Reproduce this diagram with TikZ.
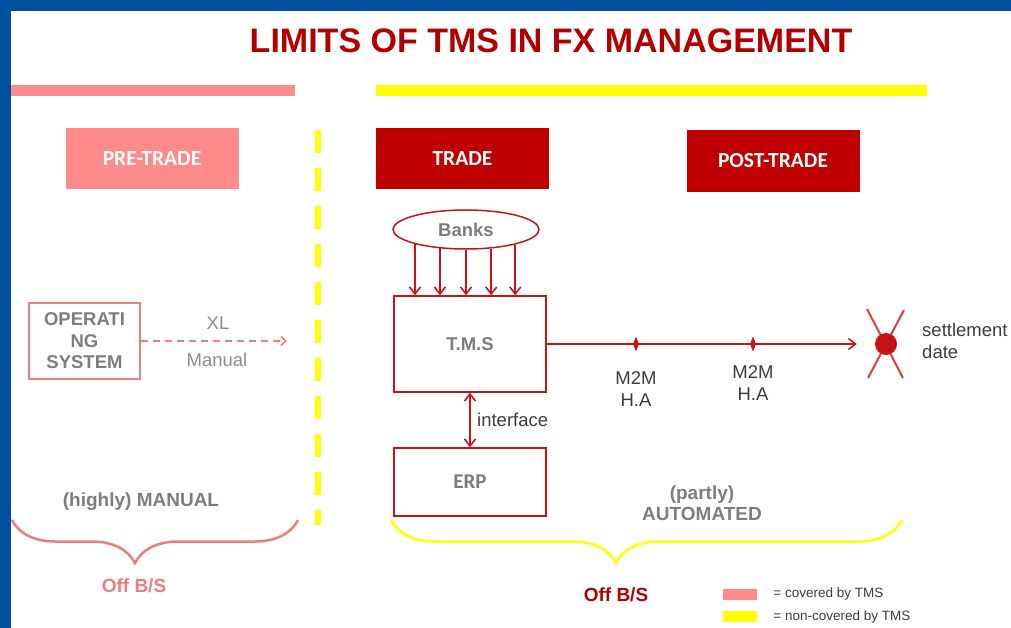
\documentclass[tikz,border=0pt]{standalone}
\usepackage{fontspec}
\setmainfont{Liberation Sans}
\newfontfamily\calibrifont{Carlito}
\usepackage{tikz}
\usetikzlibrary{positioning, arrows.meta, calc, shapes.geometric, decorations.pathreplacing}

\definecolor{frameblue}{RGB}{0,80,160}
\definecolor{titlered}{RGB}{176,0,0}
\definecolor{tradered}{RGB}{192,0,0}
\definecolor{linered}{RGB}{200,20,20}
\definecolor{xred}{RGB}{225,60,60}
\definecolor{covpink}{RGB}{255,138,138}
\definecolor{linepink}{RGB}{236,125,125}
\definecolor{noncovyel}{RGB}{255,255,0}
\definecolor{labelgray}{RGB}{125,125,125}
\definecolor{lightgray}{RGB}{140,140,140}
\definecolor{notegray}{RGB}{60,60,60}

\begin{document}
\begin{tikzpicture}[
    x=1pt, y=-1pt,
    >=Stealth,
    every node/.style={inner sep=0pt, font=\fontsize{18.5}{22}\selectfont},
    phasebox/.style={minimum width=173pt, minimum height=61pt, text=white, font=\calibrifont\bfseries\fontsize{21.5}{24}\selectfont},
    sysbox/.style={draw=linered, line width=1.5pt, minimum width=152pt, fill=white, text=labelgray, font=\bfseries\fontsize{18.5}{22}\selectfont},
    graytxt/.style={text=labelgray, font=\bfseries\fontsize{19}{21.5}\selectfont, align=center},
    note/.style={text=notegray, align=center},
    lightnote/.style={text=lightgray},
    offbs/.style={font=\bfseries\fontsize{19}{22}\selectfont},
    tickmark/.style={diamond, fill=linered, minimum width=6pt, minimum height=15pt},
    swatch/.style={minimum width=34pt, minimum height=11pt},
    legendtxt/.style={text=notegray, font=\fontsize{13.5}{16}\selectfont},
    arr/.style={->, line width=1.6pt, linered, >={Straight Barb[length=7pt, width=11pt]}},
    dblarr/.style={<->, line width=1.6pt, linered, >={Straight Barb[length=7pt, width=11pt]}},
    dasharr/.style={->, line width=1.6pt, linepink, dash pattern=on 7pt off 5pt, >={Straight Barb[length=5pt, width=9pt]}},
    bracepath/.style={decorate, decoration={brace, mirror, amplitude=43pt, aspect=#1}, line width=2.5pt},
]
\useasboundingbox (0,0) rectangle (1011,628);

% ---- Frame ----
\fill[frameblue] (0,0) rectangle (1011,11);
\fill[frameblue] (0,0) rectangle (11,628);

% ---- Title ----
\node[text=titlered, font=\bfseries\fontsize{34}{40}\selectfont] (title) at (551,41) {LIMITS OF TMS IN FX MANAGEMENT};

% ---- Coverage bars ----
\fill[covpink] (11,85) rectangle (295,96);
\fill[noncovyel] (376,85) rectangle (927,96);
\draw[noncovyel, line width=6pt, dash pattern=on 23pt off 15pt] (318,130) -- (318,525);

% ---- Phases ----
\node[phasebox, fill=covpink] (pretrade) at (152,159) {PRE-TRADE};
\node[phasebox, fill=tradered] (trade) at (462.5,158.5) {TRADE};
\node[phasebox, fill=tradered, minimum height=62pt] (posttrade) at (773,161) {POST-TRADE};

% ---- Pre-trade ----
\node[draw=linepink, line width=1.5pt, minimum width=111pt, minimum height=76pt, text=labelgray, font=\bfseries\fontsize{18.5}{21.5}\selectfont, align=center] (osys) at (84.5,341) {OPERATI\\NG\\SYSTEM};
\coordinate (xlend) at (287,341);
\draw[dasharr] (osys.east) -- (xlend);
\node[lightnote] (xl) at (218,323) {XL};
\node[lightnote] (manual) at (217,360) {Manual};
\node[graytxt] (highly) at (141,502) {(highly) MANUAL};

% ---- Trade ----
\node[draw=linered, line width=1.5pt, ellipse, minimum width=146pt, minimum height=39pt, text=labelgray, font=\bfseries\fontsize{18.5}{22}\selectfont] (banks) at (466,229.5) {Banks};
\node[sysbox, minimum height=96pt] (tms) at (470,344) {T.M.S};
\node[sysbox, minimum height=68pt, font=\calibrifont\bfseries\fontsize{21}{24}\selectfont] (erp) at (470,482) {ERP};

\foreach \ang in {196.4, 216.9, 270, 323.1, 343.6}
    \draw[arr] (banks.\ang) -- (banks.\ang |- tms.north);

\draw[dblarr] (tms.south) -- (erp.north);
\node[note, anchor=west] (iface) at (477,420) {interface};

% ---- Post-trade ----
\draw[xred, line width=2pt] (867,309) -- (903,378);
\draw[xred, line width=2pt] (904,310) -- (868,378);
\node[circle, fill=linered, minimum size=22pt] (settle) at (886,344) {};
\draw[arr, shorten >=18pt] (tms.east) -- (tms.east -| settle.west);

\node[tickmark] (tick1) at (636,344) {};
\node[tickmark] (tick2) at (753,344) {};
\node[note, below=20pt of tick1] (m2m1) {M2M\\H.A};
\node[note, below=14pt of tick2] (m2m2) {M2M\\H.A};
\node[note, anchor=west, align=left] (settext) at (922,341) {settlement\\date};

\node[graytxt] (partly) at (702,503) {(partly)\\AUTOMATED};

% ---- Braces ----
\draw[bracepath=0.43, linepink] (12,520) -- (298,520);
\draw[bracepath=0.44, noncovyel] (391,520) -- (902,520);
\node[offbs, text=linepink] (offleft) at (134,586) {Off B/S};
\node[offbs, text=titlered] (offright) at (616,595) {Off B/S};

% ---- Legend ----
\node[swatch, fill=covpink] (legcov) at (740,594.5) {};
\node[swatch, fill=noncovyel, below=11pt of legcov] (legnon) {};
\node[legendtxt, right=16pt of legcov] (legcovtxt) {= covered by TMS};
\node[legendtxt, right=16pt of legnon] (legnontxt) {= non-covered by TMS};

\end{tikzpicture}
\end{document}
